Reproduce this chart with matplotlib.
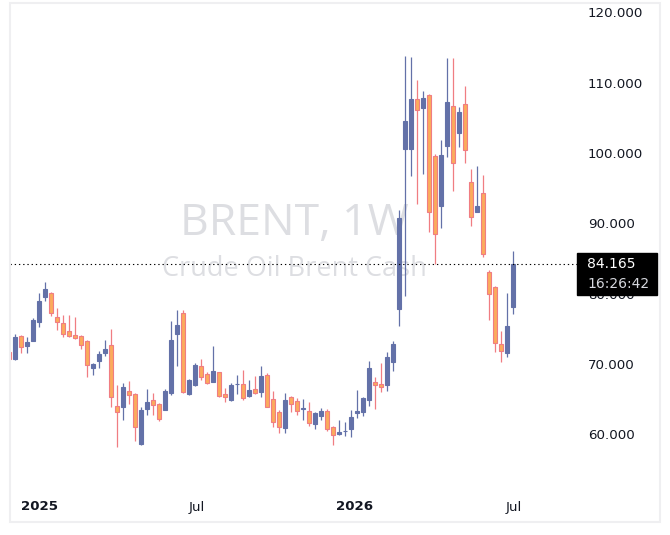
import matplotlib.pyplot as plt
import matplotlib.transforms as mtransforms
from matplotlib.patches import Rectangle

# Datos semanales BRENT (velas 1W)
aperturas = [71.75, 70.71, 73.94, 72.60, 73.31, 76.02, 79.57, 80.06, 76.64, 75.79,
             74.65, 74.08, 73.98, 73.27, 69.47, 70.47, 71.56, 72.66, 64.03, 63.93,
             66.12, 65.73, 58.58, 63.64, 64.88, 64.27, 63.46, 65.92, 74.27, 77.21,
             65.73, 67.01, 69.67, 68.58, 67.48, 68.86, 65.73, 64.88, 67.10, 67.11,
             65.50, 66.40, 66.06, 68.39, 64.97, 63.21, 60.93, 65.31, 64.74, 63.60,
             63.31, 61.50, 62.64, 63.31, 61.00, 60.06, 60.40, 60.80, 63.07, 63.21,
             64.88, 67.44, 67.15, 67.01, 70.33, 77.82, 100.54, 100.54, 107.64, 106.36,
             108.25, 99.59, 92.52, 101.01, 106.69, 102.90, 106.97, 95.85, 91.66, 94.28,
             83.04, 81.00, 72.85, 71.52, 78.15]
maximos = [71.90, 74.27, 74.10, 73.88, 76.50, 80.06, 81.62, 80.20, 78.00, 76.97,
           76.97, 76.73, 74.10, 73.41, 70.10, 71.85, 73.41, 74.98, 67.01, 67.25,
           67.58, 65.92, 63.93, 66.44, 65.83, 64.41, 66.40, 76.12, 77.68, 77.68,
           67.80, 70.10, 70.71, 68.90, 72.56, 68.90, 66.58, 67.34, 68.43, 69.15,
           67.72, 68.29, 69.72, 68.68, 66.16, 63.46, 65.83, 65.45, 65.12, 65.02,
           64.55, 63.21, 63.73, 63.55, 61.18, 62.03, 61.75, 63.46, 66.30, 65.35,
           70.43, 68.19, 70.10, 71.71, 73.31, 91.90, 113.80, 113.70, 110.34, 108.82,
           108.39, 99.83, 101.86, 113.56, 113.56, 106.60, 109.49, 97.74, 98.17, 96.88,
           83.37, 81.10, 74.69, 80.06, 86.07]
minimos = [70.50, 70.60, 71.60, 71.60, 73.20, 75.31, 79.00, 76.87, 74.84, 73.88,
           73.80, 73.60, 72.09, 68.19, 68.39, 69.47, 71.18, 63.84, 58.15, 62.03,
           64.31, 59.09, 58.50, 62.79, 62.75, 61.94, 63.40, 65.59, 69.72, 65.92,
           65.59, 66.87, 67.72, 67.15, 67.40, 65.26, 64.64, 64.78, 65.73, 64.88,
           65.35, 65.73, 65.26, 63.85, 61.08, 60.20, 60.20, 63.21, 62.70, 62.03,
           61.18, 60.80, 62.03, 60.46, 58.44, 59.96, 59.82, 59.63, 62.36, 62.60,
           64.03, 63.55, 66.06, 66.20, 69.05, 75.40, 79.72, 96.78, 92.72, 97.02,
           88.82, 84.22, 89.39, 99.49, 94.65, 100.91, 98.55, 89.67, 91.60, 85.18,
           76.26, 71.75, 70.24, 71.04, 77.11]
cierres = [70.67, 73.88, 72.38, 73.13, 76.26, 78.96, 80.67, 77.30, 76.02, 74.22,
           74.03, 73.66, 72.66, 69.82, 69.96, 71.38, 72.13, 65.35, 63.13, 66.77,
           65.63, 61.00, 63.46, 64.59, 64.13, 62.22, 66.20, 73.41, 75.55, 66.06,
           67.72, 69.86, 68.19, 67.25, 69.00, 65.50, 65.35, 67.01, 67.20, 65.12,
           66.30, 65.83, 68.29, 63.93, 61.70, 61.07, 64.88, 64.27, 63.31, 63.80,
           61.56, 62.98, 63.31, 60.70, 59.86, 60.30, 60.50, 62.40, 63.31, 65.12,
           69.39, 67.06, 66.77, 70.95, 72.85, 90.81, 104.57, 107.64, 106.08, 107.87,
           91.62, 88.45, 99.73, 107.30, 98.55, 105.89, 100.40, 90.87, 92.48, 85.65,
           79.96, 72.94, 71.89, 75.41, 84.165]

# Etiquetas del eje de tiempo (posicion en semanas)
pos_fechas = [5.0, 31.3, 57.6, 84.0]
etiquetas_fechas = ["2025", "Jul", "2026", "Jul"]
niveles_precio = [60, 70, 80, 90, 100, 110, 120]
cuenta_atras = "16:26:42"

azul = "#6371a8"
naranja = "#fbab5c"
rosa = "#f07d82"
texto = "#131722"

fig = plt.figure(figsize=(6.7, 5.35), dpi=100)
fig.patch.set_facecolor("white")
ax = fig.add_axes([10 / 670, 1 - 488 / 535, 568 / 670, 485 / 535])

# Marco gris claro alrededor del grafico
fig.patches.append(Rectangle((10 / 670, 1 - 522 / 535), 650 / 670, 519 / 535,
                             transform=fig.transFigure, fill=False,
                             edgecolor="#efeff1", linewidth=1.5))

# Marca de agua
ax.text(0.5, 0.545, "BRENT, 1W", transform=ax.transAxes, ha="center", va="center",
        fontsize=32, color="#dddee2", family="Open Sans", zorder=0)
ax.text(0.5, 0.452, "Crude Oil Brent Cash", transform=ax.transAxes, ha="center",
        va="center", fontsize=19.5, color="#dddee2", family="Open Sans", zorder=0)

# Velas
x = list(range(len(cierres)))
sube = [c >= o for o, c in zip(aperturas, cierres)]
col_cuerpo = [azul if s else naranja for s in sube]
col_borde = [azul if s else rosa for s in sube]
ax.vlines(x, minimos, maximos, colors=col_borde, linewidth=0.9, zorder=2)
alturas = [max(abs(c - o), 0.08) for o, c in zip(aperturas, cierres)]
bases = [min(o, c) for o, c in zip(aperturas, cierres)]
ax.bar(x, alturas, bottom=bases, width=0.64, color=col_cuerpo,
       edgecolor=col_borde, linewidth=0.8, zorder=3)

# Linea punteada del ultimo precio
ultimo = cierres[-1]
ax.axhline(ultimo, color="black", linewidth=0.8, linestyle=(0, (1.2, 2.6)), zorder=4)

ax.set_xlim(0.11, 94.78)
ax.set_ylim(52.36, 121.35)
for s in ax.spines.values():
    s.set_visible(False)

ax.yaxis.tick_right()
ax.set_yticks(niveles_precio)
ax.set_yticklabels([f"{v:.3f}" for v in niveles_precio])
ax.tick_params(axis="y", length=0, pad=7, labelsize=9.6, labelcolor=texto)
ax.set_xticks(pos_fechas)
ax.set_xticklabels(etiquetas_fechas)
ax.tick_params(axis="x", length=0, pad=9, labelsize=9.6, labelcolor=texto)
for t in ax.get_xticklabels():
    if t.get_text().isdigit():
        t.set_fontweight("bold")

# Etiqueta negra del precio actual
mezcla = mtransforms.blended_transform_factory(ax.transAxes, ax.transData)
ax.add_patch(Rectangle((0.998, ultimo - 30.7 / 7.03), 80 / 568, 42 / 7.03,
                       transform=mezcla, color="black", clip_on=False, zorder=10))
ax.text(1.0158, ultimo, f"{ultimo:.3f}", transform=mezcla, color="white",
        fontsize=10, va="center", ha="left", zorder=11)
ax.text(1.0158, ultimo - 19.4 / 7.03, cuenta_atras, transform=mezcla,
        color="#d6d8de", fontsize=10, va="center", ha="left", zorder=11)

plt.savefig("out.png", dpi=100)
